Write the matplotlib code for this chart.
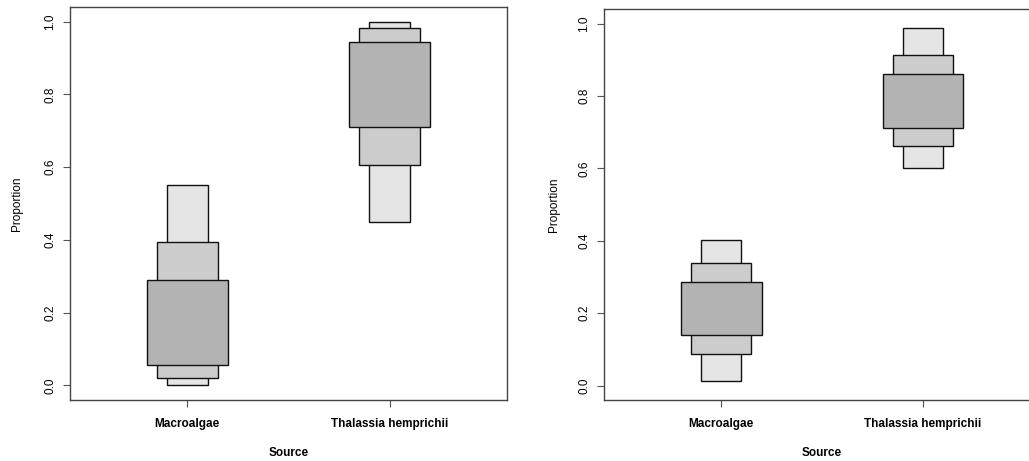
import matplotlib
matplotlib.use("Agg")
import matplotlib.pyplot as plt

plt.rcParams['font.family'] = ['Liberation Sans', 'DejaVu Sans']

sources = ["Macroalgae", "Thalassia hemprichii"]
y_ticks = [0.0, 0.2, 0.4, 0.6, 0.8, 1.0]
y_tick_labels = ["0.0", "0.2", "0.4", "0.6", "0.8", "1.0"]

# Panel 1 credible intervals (low, high) per source
p1_ci95 = [(0.000, 0.550), (0.450, 1.000)]
p1_ci75 = [(0.020, 0.394), (0.607, 0.981)]
p1_ci50 = [(0.057, 0.290), (0.711, 0.943)]

# Panel 2 credible intervals
p2_ci95 = [(0.013, 0.401), (0.601, 0.989)]
p2_ci75 = [(0.086, 0.338), (0.662, 0.915)]
p2_ci50 = [(0.139, 0.287), (0.713, 0.862)]

level_colors = ["#e5e5e5", "#cccccc", "#b3b3b3"]
level_widths = [0.2, 0.3, 0.4]

fig = plt.figure(figsize=(10.29, 4.61), dpi=100)
ax1 = fig.add_axes([70/1029, 1-400/461, 437/1029, 393/461])
ax2 = fig.add_axes([604.3/1029, 1-400/461, 435.5/1029, 390.7/461])

def draw(ax, levels, ylabelpad):
    xs = list(range(1, len(sources)+1))
    for ci, col, w in zip(levels, level_colors, level_widths):
        lo = [a for a, b in ci]
        h = [b - a for a, b in ci]
        ax.bar(xs, h, bottom=lo, width=w, color=col, edgecolor="#111111", linewidth=1.0)
    ax.set_xlim(0.42, 2.58)
    ax.set_ylim(-0.04, 1.04)
    ax.set_xticks(xs)
    ax.set_xticklabels(sources, fontsize=8.5, fontweight="bold")
    ax.set_yticks(y_ticks)
    ax.set_yticklabels(y_tick_labels, rotation=90, va="center", fontsize=8.5)
    ax.tick_params(axis="both", length=5, width=0.8, color="#555555")
    ax.tick_params(axis="x", pad=8)
    ax.tick_params(axis="y", pad=5)
    for s in ax.spines.values():
        s.set_color("#444444")
        s.set_linewidth(1.0)
    ax.set_xlabel("Source", fontsize=8.5, fontweight="bold", labelpad=12)
    ax.set_ylabel("Proportion", fontsize=8.5, labelpad=ylabelpad)

draw(ax1, [p1_ci95, p1_ci75, p1_ci50], 15)
draw(ax2, [p2_ci95, p2_ci75, p2_ci50], 13)
ax2.spines['right'].set_visible(False)

fig.savefig("out.png", dpi=100)
